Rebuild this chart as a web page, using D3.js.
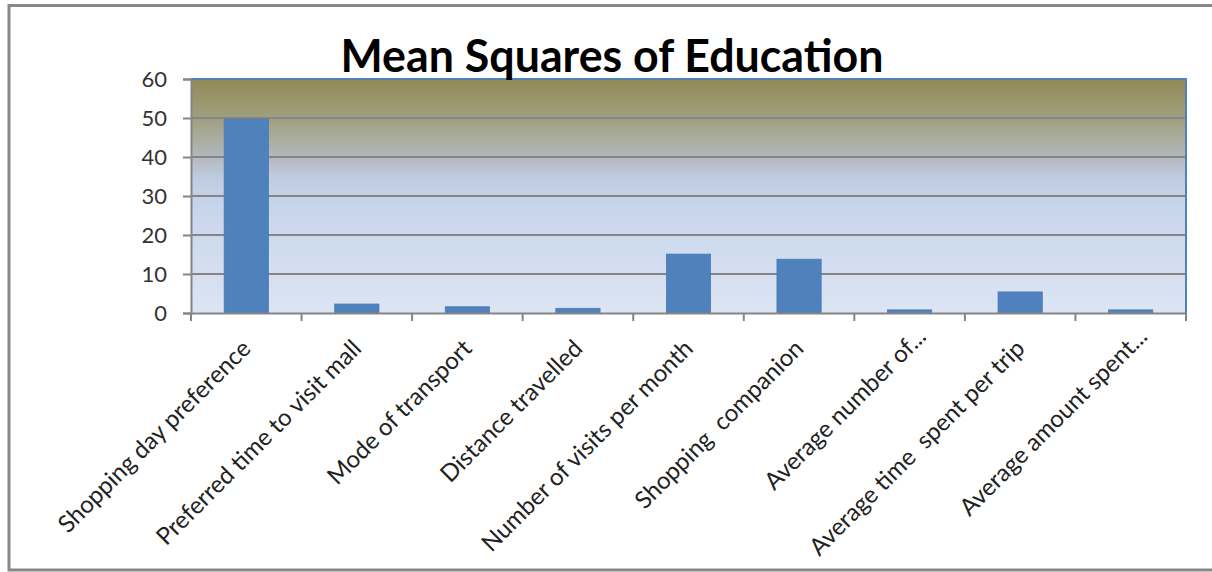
<!DOCTYPE html>
<html><head><meta charset="utf-8">
<script src="https://cdn.jsdelivr.net/npm/d3@7"></script>
<style>body{margin:0;background:#fff}svg{display:block}</style>
</head><body>
<script>
const categories = ["Shopping day preference","Preferred time to visit mall","Mode of transport","Distance travelled","Number of visits per month","Shopping  companion","Average number of...","Average time  spent per trip","Average amount spent..."];
const values = [49.7, 2.3, 1.6, 1.2, 15.1, 13.8, 0.8, 5.4, 0.8];
const yTicks = [0, 10, 20, 30, 40, 50, 60];
const title = "Mean Squares of Education";

const W = 1212, H = 572;
const svg = d3.select("body").append("svg").attr("width", W).attr("height", H);
const m = {l: 191, r: 1186, t: 79, b: 313};
const font = "Lato, 'Open Sans', sans-serif";

// outer frame
svg.append("rect").attr("x", 9).attr("y", 5.5).attr("width", 1220).attr("height", 564.5)
  .attr("fill", "#fff").attr("stroke", "#888").attr("stroke-width", 3);

const defs = svg.append("defs");
const g = defs.append("linearGradient").attr("id", "bg").attr("x1", 0).attr("y1", 0).attr("x2", 0).attr("y2", 1);
[["0%", "#928958"], ["17%", "#a0a07e"], ["32%", "#b1b6b8"], ["42%", "#bfcbe0"], ["55%", "#c7d5ec"], ["100%", "#dde5f3"]]
  .forEach(([o, c]) => g.append("stop").attr("offset", o).attr("stop-color", c));

const x = d3.scaleBand().domain(categories).range([m.l, m.r]).paddingInner(0.6).paddingOuter(0.3);
const xb = d3.scaleBand().domain(categories).range([m.l, m.r]);
const y = d3.scaleLinear().domain([0, 60]).range([m.b, m.t]);

svg.append("rect").attr("x", m.l).attr("y", m.t).attr("width", m.r - m.l).attr("height", m.b - m.t).attr("fill", "url(#bg)");

// gridlines
svg.append("g").selectAll("line").data(yTicks.filter(d => d > 0)).join("line")
  .attr("x1", m.l).attr("x2", m.r).attr("y1", d => y(d)).attr("y2", d => y(d))
  .attr("stroke", "#858585").attr("stroke-width", 2);

// plot border top/right in blue
svg.append("path").attr("d", `M${m.l},${m.t}H${m.r}V${m.b}`).attr("fill", "none").attr("stroke", "#4f81bd").attr("stroke-width", 2);

// bars
svg.append("g").selectAll("rect").data(values).join("rect")
  .attr("x", (d, i) => x(categories[i])).attr("width", x.bandwidth())
  .attr("y", d => y(d)).attr("height", d => y(0) - y(d))
  .attr("fill", "#4f81bd").attr("stroke", "#4a7ab4").attr("stroke-width", 0.8);

// y axis
const ya = svg.append("g").attr("transform", `translate(${m.l},0)`)
  .call(d3.axisLeft(y).tickValues(yTicks).tickSize(8).tickPadding(16));
ya.select(".domain").attr("stroke", "#858585").attr("stroke-width", 2);
ya.selectAll(".tick line").attr("stroke", "#858585").attr("stroke-width", 2);
ya.selectAll("text").attr("font-family", font).attr("font-size", 22).attr("fill", "#333");

// x axis
const xa = svg.append("g").attr("transform", `translate(0,${m.b})`)
  .call(d3.axisBottom(xb).tickSize(0).tickFormat(""));
xa.select(".domain").attr("stroke", "#858585").attr("stroke-width", 2);
svg.append("g").selectAll("line").data(d3.range(categories.length + 1)).join("line")
  .attr("x1", i => m.l + i * xb.step()).attr("x2", i => m.l + i * xb.step())
  .attr("y1", m.b).attr("y2", m.b + 8).attr("stroke", "#858585").attr("stroke-width", 2);

svg.append("g").selectAll("text").data(categories).join("text")
  .attr("transform", d => `translate(${xb(d) + xb.bandwidth() / 2 + 6},${m.b + 37}) rotate(-45)`)
  .attr("text-anchor", "end")
  .attr("dx", d => d.endsWith("...") ? 17 : 0)
  .attr("font-family", font).attr("font-size", 24).attr("fill", "#222")
  .style("white-space", "pre").attr("xml:space", "preserve")
  .text(d => d);

// title
svg.append("text").attr("x", 612).attr("y", 72).attr("text-anchor", "middle")
  .attr("font-family", font).attr("font-weight", "bold").attr("font-size", 45)
  .attr("fill", "#000").attr("textLength", 543).attr("lengthAdjust", "spacingAndGlyphs")
  .text(title);
</script>
</body></html>
